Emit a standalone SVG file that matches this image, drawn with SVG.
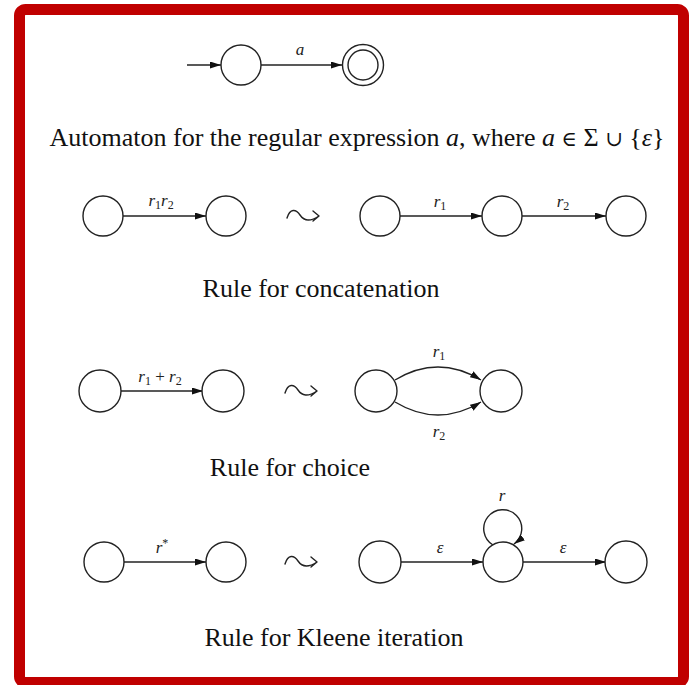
<svg xmlns="http://www.w3.org/2000/svg" width="691" height="685" viewBox="0 0 691 685">
<defs>
<marker id="ah" markerUnits="userSpaceOnUse" markerWidth="12" markerHeight="8" refX="11" refY="3.5" orient="auto">
<path d="M0,0 L11,3.5 L0,7 z" fill="#111"/>
</marker>
</defs>
<style>
.st{fill:#fff;stroke:#222;stroke-width:1.4}
.ed{fill:none;stroke:#222;stroke-width:1.4;marker-end:url(#ah)}
.sq{fill:none;stroke:#222;stroke-width:1.4;stroke-linecap:round;stroke-linejoin:round}
.lb{font-family:"Liberation Serif","Times New Roman",serif;font-style:italic;font-size:17px;fill:#222;text-anchor:middle}
.sub{font-size:12px;font-style:normal}
.cap{font-family:"Liberation Serif","Times New Roman",serif;font-size:26px;fill:#111;text-anchor:middle}
.it{font-style:italic}
.sym{font-family:"DejaVu Serif",serif;font-size:21px}
</style>
<rect x="19.5" y="9.5" width="664" height="673" rx="6" fill="#fff" stroke="#C00000" stroke-width="11"/>

<g id="connectors">
<line class="ed" x1="187" y1="65" x2="221" y2="65"/>
<line class="ed" x1="261" y1="65" x2="342" y2="65"/>
<line class="ed" x1="123" y1="216" x2="206" y2="216"/>
<line class="ed" x1="400" y1="216" x2="482" y2="216"/>
<line class="ed" x1="522" y1="216" x2="606" y2="216"/>
<line class="ed" x1="121" y1="391" x2="203" y2="391"/>
<path class="ed" d="M395,380 Q438,354 481,380"/>
<path class="ed" d="M395,402 Q438,428 481,402"/>
<line class="ed" x1="124" y1="562" x2="206" y2="562"/>
<line class="ed" x1="400" y1="562" x2="483" y2="562"/>
<line class="ed" x1="523" y1="562" x2="606" y2="562"/>
<path class="ed" d="M493,545 A19,19 0 1 1 514,544"/>
</g>

<g id="squiggles">
<path class="sq" d="M287,218 C290,208 296,209 300,215 C304,221 310,222 319,216 M313,211 L319,216 L313,221"/>
<path class="sq" d="M285,393 C288,383 294,384 298,390 C302,396 308,397 317,391 M311,386 L317,391 L311,396"/>
<path class="sq" d="M285,564 C288,554 294,555 298,561 C302,567 308,568 317,562 M311,557 L317,562 L311,567"/>
</g>

<g id="n_init"><circle class="st" cx="241" cy="65" r="20"/></g>
<g id="n_final"><circle class="st" cx="363" cy="65" r="20.5"/><circle class="st" cx="363" cy="65" r="15"/></g>

<g id="c1"><circle class="st" cx="103" cy="216" r="20"/></g>
<g id="c2"><circle class="st" cx="226" cy="216" r="20"/></g>
<g id="c3"><circle class="st" cx="380" cy="216" r="20"/></g>
<g id="c4"><circle class="st" cx="502" cy="216" r="20"/></g>
<g id="c5"><circle class="st" cx="626" cy="216" r="20"/></g>

<g id="h1"><circle class="st" cx="100" cy="391" r="21"/></g>
<g id="h2"><circle class="st" cx="223" cy="391" r="21"/></g>
<g id="h3"><circle class="st" cx="376" cy="391" r="21"/></g>
<g id="h4"><circle class="st" cx="501" cy="391" r="21"/></g>

<g id="k1"><circle class="st" cx="104" cy="562" r="20"/></g>
<g id="k2"><circle class="st" cx="226" cy="562" r="20"/></g>
<g id="k3"><circle class="st" cx="380" cy="562" r="21"/></g>
<g id="k4"><circle class="st" cx="503" cy="562" r="20"/></g>
<g id="k5"><circle class="st" cx="626" cy="562" r="21"/></g>

<g id="labels">
<text class="lb" x="300" y="55">a</text>
<text class="lb" x="161" y="206">r<tspan class="sub" dy="3">1</tspan><tspan dy="-3">r</tspan><tspan class="sub" dy="3">2</tspan></text>
<text class="lb" x="440" y="207">r<tspan class="sub" dy="3">1</tspan></text>
<text class="lb" x="563" y="207">r<tspan class="sub" dy="3">2</tspan></text>
<text class="lb" x="160" y="382">r<tspan class="sub" dy="3">1</tspan><tspan dy="-3" font-style="normal"> + </tspan>r<tspan class="sub" dy="3">2</tspan></text>
<text class="lb" x="439" y="357">r<tspan class="sub" dy="3">1</tspan></text>
<text class="lb" x="439" y="437">r<tspan class="sub" dy="3">2</tspan></text>
<text class="lb" x="162" y="553">r<tspan class="sub" dy="-6">*</tspan></text>
<text class="lb" x="440" y="553">ε</text>
<text class="lb" x="563" y="553">ε</text>
<text class="lb" x="502" y="501">r</text>
</g>

<g id="captions">
<text class="cap" x="357" y="146">Automaton for the regular expression <tspan class="it">a</tspan>, where <tspan class="it">a</tspan> <tspan class="sym">∈</tspan> Σ <tspan class="sym">∪</tspan> {<tspan class="it">ε</tspan>}</text>
<text class="cap" x="321" y="297">Rule for concatenation</text>
<text class="cap" x="290" y="476">Rule for choice</text>
<text class="cap" x="334" y="646">Rule for Kleene iteration</text>
</g>
</svg>
